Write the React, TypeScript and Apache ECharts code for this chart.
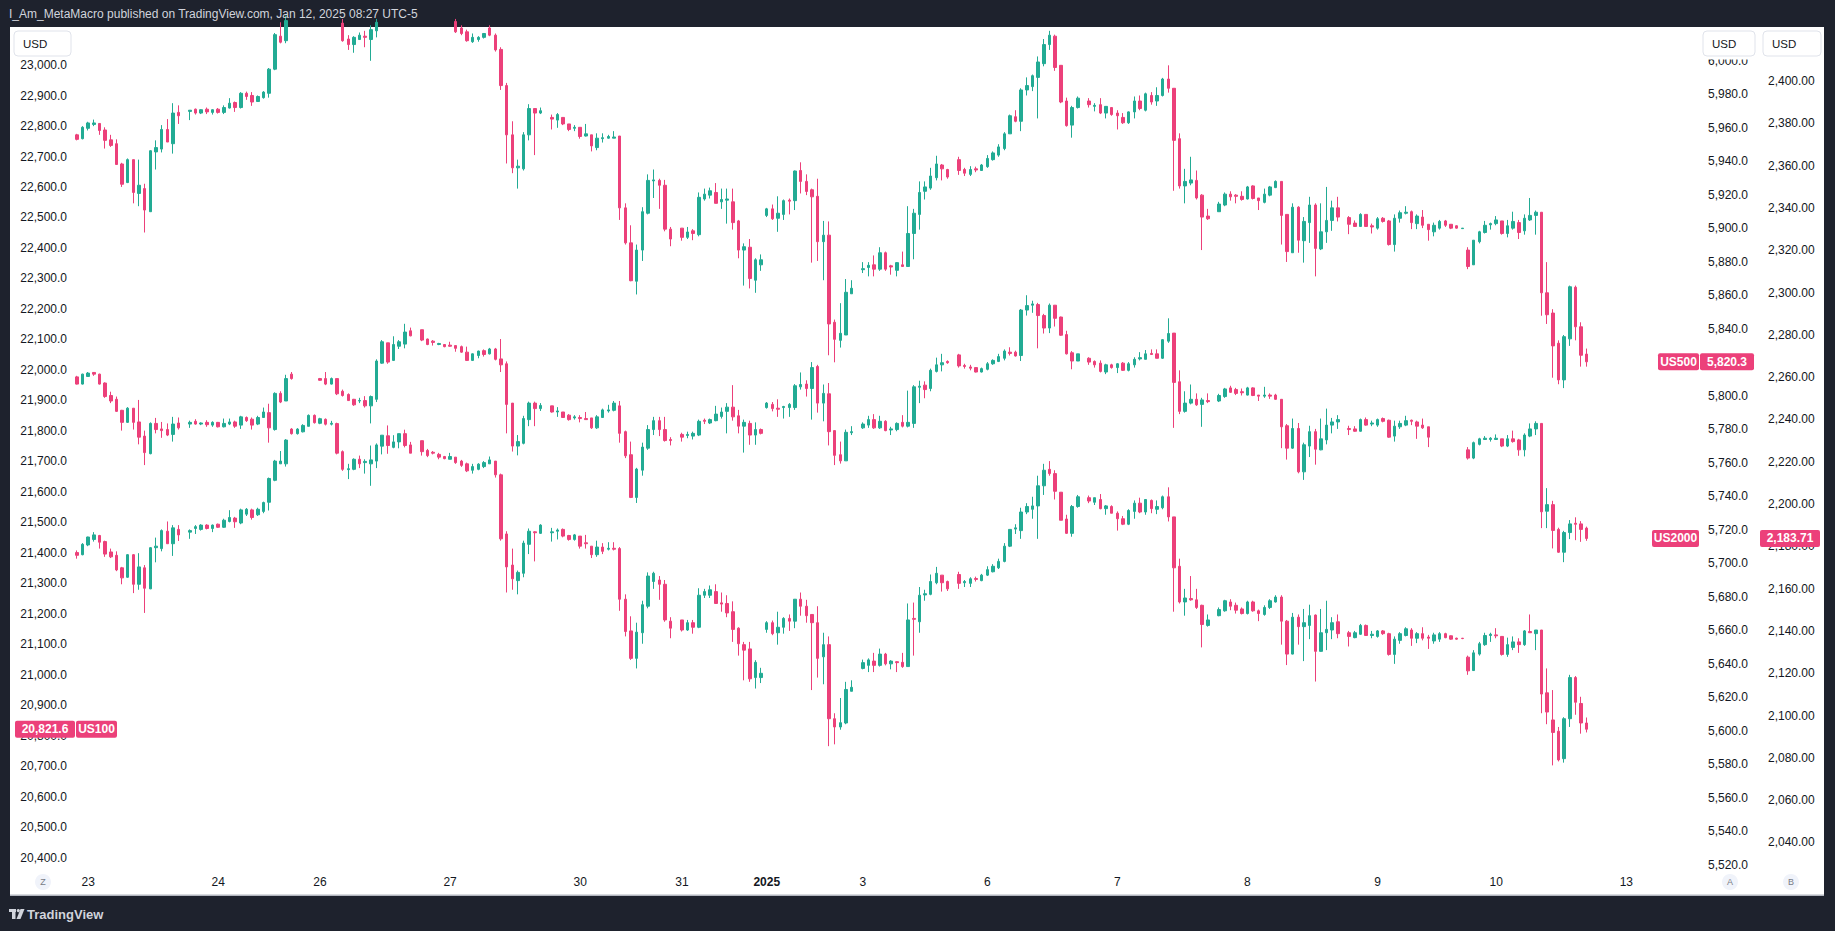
import React, { useEffect, useRef } from "react";
import * as echarts from "echarts";

// ---- time axis: hourly slots, day labels at slot index ----
const SLOT_COUNT = 287;
const DAY_TICKS: [number, string][] = [
  [2, "23"], [25, "24"], [43, "26"], [66, "27"], [89, "30"], [107, "31"], [122, "2025"],
  [139, "3"], [161, "6"], [184, "7"], [207, "8"], [230, "9"], [251, "10"], [274, "13"],
];

// candles: [open, close, low, high], null = no bar
type C = [number, number, number, number] | null;

const US500: C[] = [
  [5955.8,5953.1,5952.5,5956.4],[5953.5,5960.3,5953.1,5961.0],[5959.7,5962.9,5958.4,5963.6],[5962.0,5962.9,5961.0,5964.9],
  [5962.6,5958.4,5955.8,5962.6],[5958.7,5952.5,5947.6,5960.3],[5952.8,5949.5,5948.6,5955.8],[5950.5,5938.1,5938.1,5953.1],
  [5938.4,5926.3,5924.7,5939.1],[5927.3,5941.0,5927.0,5941.7],[5941.0,5921.4,5914.9,5941.0],[5920.8,5925.7,5913.2,5941.0],
  [5923.7,5910.9,5897.5,5926.6],[5909.9,5946.3,5909.9,5946.6],[5945.6,5948.2,5935.1,5952.5],[5947.3,5959.0,5945.3,5961.6],
  [5959.0,5951.5,5951.5,5965.2],[5950.5,5968.8,5944.6,5974.7],[5969.2,5967.2,5962.3,5973.4],null,
  [5969.8,5970.5,5964.6,5970.5],[5971.1,5968.8,5967.9,5971.5],[5968.8,5970.8,5968.2,5971.1],[5971.1,5969.5,5968.2,5972.1],
  [5969.2,5970.8,5967.9,5971.1],[5971.1,5969.2,5968.5,5971.8],[5969.2,5972.1,5968.2,5973.4],[5971.8,5974.7,5971.5,5977.7],
  [5975.1,5972.1,5969.5,5975.7],[5972.1,5980.6,5971.5,5981.3],[5980.6,5978.7,5976.7,5981.6],[5979.3,5975.4,5973.1,5981.3],
  [5975.7,5978.7,5975.4,5979.3],[5978.0,5981.3,5977.4,5981.9],[5980.6,5995.0,5978.0,5995.7],[5995.0,6015.6,5994.4,6016.6],
  [6014.7,6011.1,6010.4,6023.0],[6012.0,6024.0,6010.5,6027.0],[6024,6027,6022,6029],[6027,6030,6025,6031],
  [6030,6033,6028,6035],[6033,6037,6031,6039],[6037,6035,6033,6039],[6036,6034,6031,6038],
  [6034,6032,6029,6036],[6032,6030,6027,6034],[6030,6023,6022,6031],[6022.5,6012.0,6011.4,6025],
  [6013.0,6009.7,6006.5,6015.3],[6009.7,6014.0,6004.8,6014.7],[6012.7,6015.3,6012.4,6016.9],[6014.7,6014.0,6008.1,6017.9],
  [6012.7,6018.6,6000.0,6021.2],[6017.9,6023,6014.0,6025],[6023,6027,6021.5,6029],[6027,6025,6022,6030],
  [6025,6028,6023,6030],[6028,6031,6026,6033],[6031,6029,6026,6033],[6029,6027,6025,6031],null,
  [6028,6026,6024,6030],[6026,6025,6023,6028],[6025,6026,6023,6028],[6026,6025,6023,6028],
  [6025,6024,6022.5,6027],[6024,6025,6022.5,6027],[6023.5,6017.3,6016.6,6025],[6019.6,6016.3,6015.3,6021.2],
  [6017.3,6012.0,6011.4,6018.6],[6011.4,6014.0,6010.7,6016.3],[6012.7,6014.0,6011.4,6014.7],[6014.0,6016.3,6013.3,6016.6],
  [6019.6,6015.3,6014.7,6021.2],[6015.3,6006.5,6005.5,6016.3],[6006.8,5985.2,5982.6,6008.1],[5985.2,5955.8,5938.7,5986.8],
  [5955.8,5936.1,5932.9,5963.9],[5936.1,5937.1,5923.7,5941.0],[5935.5,5955.8,5934.5,5957.4],[5955.8,5971.5,5952.5,5974.1],
  [5971.5,5968.8,5943.7,5971.5],[5968.8,5970.2,5968.2,5972.1],null,[5966.2,5965.2,5959.0,5967.9],
  [5964.6,5967.9,5960.0,5968.8],[5966.2,5962.3,5961.6,5966.2],[5962.3,5959.0,5958.0,5962.3],[5959.7,5960.3,5958.0,5961.6],
  [5960.3,5954.8,5953.5,5960.3],[5955.1,5956.4,5954.8,5962.3],[5955.8,5949.2,5945.9,5955.8],[5948.2,5953.8,5946.6,5956.7],
  [5953.5,5954.1,5951.2,5956.7],[5953.8,5954.8,5953.5,5955.8],[5953.8,5954.5,5953.8,5958.0],[5955.1,5912.2,5905.0,5955.1],
  [5912.2,5891.3,5890.3,5914.9],[5891.3,5868.7,5868.4,5901.8],[5868.4,5887.0,5860.5,5890.3],[5887.0,5909.9,5880.5,5912.6],
  [5909.0,5928.6,5908.3,5932.2],[5928.3,5928.9,5918.1,5935.1],[5928.6,5925.7,5911.6,5929.6],[5925.7,5899.5,5898.2,5928.9],
  [5899.5,5893.6,5889.3,5900.8],null,[5900.1,5894.6,5892.6,5900.1],[5894.6,5897.8,5893.6,5900.8],
  [5898.5,5896.9,5892.9,5899.5],[5896.2,5918.5,5895.2,5921.4],[5917.5,5920.4,5916.5,5923.7],[5919.8,5922.4,5917.8,5924.3],
  [5921.4,5914.9,5914.9,5927.0],[5915.8,5917.2,5911.6,5923.7],[5916.8,5917.5,5902.8,5923.7],[5915.8,5903.4,5899.2,5923.7],
  [5904.4,5887.0,5882.1,5905.0],[5887.0,5889.0,5865.8,5891.0],[5888.7,5870.0,5864.1,5893.6],[5869.0,5881.2,5861.5,5882.1],
  [5878.2,5881.2,5874.6,5884.4],[5907.7,5911.6,5906.7,5912.2],[5911.6,5905.7,5905.0,5914.2],[5906.0,5909.0,5897.9,5919.1],
  [5908.3,5916.5,5905.0,5917.2],[5916.8,5916.2,5908.3,5917.8],[5916.5,5934.2,5910.9,5934.5],[5934.5,5928.0,5920.8,5939.4],
  [5928.0,5922.0,5919.8,5932.2],[5923.0,5918.8,5879.5,5923.7],[5919.1,5892.0,5880.5,5929.6],[5892.0,5895.9,5869.0,5904.4],
  [5895.9,5842.9,5824.2,5904.1],[5843.9,5833.7,5820.0,5845.5],[5833.1,5837.3,5828.8,5855.3],[5836.3,5861.8,5836.3,5869.7],
  [5860.9,5864.2,5860.9,5869.0],null,[5875.3,5875.9,5873.3,5879.8],[5876.6,5877.9,5871.3,5879.8],
  [5878.2,5875.6,5871.3,5883.8],[5875.6,5885.4,5874.6,5888.7],[5885.4,5875.6,5874.6,5886.1],[5877.6,5876.9,5872.3,5878.2],
  [5874.9,5879.5,5871.3,5879.8],[5878.2,5877.2,5877.2,5886.1],[5877.2,5896.9,5877.2,5913.2],[5896.9,5909.0,5881.5,5911.6],
  [5908.3,5921.4,5899.2,5928.0],[5922.1,5924.7,5917.2,5928.0],[5924.0,5931.2,5923.0,5936.1],[5930.2,5938.4,5928.6,5943.3],
  [5937.8,5935.5,5928.6,5938.4],[5935.1,5930.6,5929.6,5935.5],null,[5941.0,5934.5,5931.9,5942.7],
  [5935.1,5932.9,5931.2,5936.1],[5932.2,5935.1,5931.2,5937.1],[5935.5,5934.8,5933.5,5936.8],[5934.5,5937.8,5934.2,5938.4],
  [5936.8,5941.7,5936.1,5943.7],[5941.0,5945.0,5940.4,5945.9],[5943.7,5948.6,5942.7,5950.2],[5947.6,5956.4,5946.6,5957.4],
  [5956.4,5967.2,5956.4,5967.9],[5966.6,5963.9,5963.3,5970.5],[5963.9,5982.6,5958.0,5983.6],[5982.6,5985.2,5979.3,5990.1],
  [5984.6,5991.1,5981.9,5991.8],[5990.1,5999.3,5965.6,6002.6],[5998.3,6009.7,5996.7,6013.0],[6009.7,6015.3,6006.5,6017.9],
  [6014.7,5996.0,5994.0,6015.6],[5997.3,5975.4,5974.7,5997.3],[5976.0,5961.3,5960.7,5978.0],[5961.6,5972.1,5954.1,5973.1],
  [5972.1,5977.7,5971.5,5978.7],null,[5976.0,5973.8,5972.1,5977.7],[5972.8,5973.4,5969.8,5974.7],
  [5973.8,5968.8,5968.2,5977.7],[5968.8,5972.8,5965.6,5972.8],[5972.1,5967.9,5967.2,5972.1],[5968.8,5967.2,5959.0,5970.5],
  [5966.2,5963.0,5962.3,5968.8],[5963.0,5969.5,5962.3,5969.8],[5969.5,5976.0,5965.6,5978.7],[5976.0,5971.5,5970.5,5979.3],
  [5970.5,5980.3,5969.8,5981.0],[5979.3,5975.4,5973.8,5981.3],[5976.0,5979.3,5973.1,5984.2],[5979.3,5989.1,5978.7,5989.8],
  [5989.1,5983.6,5981.0,5997.3],[5983.6,5952.5,5922.4,5983.6],[5953.5,5925.3,5923.7,5956.7],[5925.3,5928.0,5914.9,5935.5],
  [5927.0,5928.9,5925.7,5942.7],[5928.6,5918.1,5917.2,5934.5],[5919.8,5906.7,5887.0,5920.4],[5907.3,5905.7,5905.0,5911.6],null,
  [5909.9,5914.5,5909.9,5915.8],[5913.9,5920.4,5913.2,5921.4],[5920.4,5918.8,5916.5,5922.1],[5919.8,5919.1,5914.9,5920.4],
  [5919.1,5917.2,5916.5,5922.1],[5917.5,5924.7,5917.2,5925.3],[5925.3,5917.8,5917.2,5925.7],[5918.1,5916.5,5910.9,5918.1],
  [5915.5,5920.4,5914.9,5923.7],[5919.8,5924.7,5919.1,5925.3],[5924.3,5928.0,5924.0,5928.6],[5928.0,5907.7,5890.3,5928.0],
  [5908.3,5886.1,5879.9,5908.3],[5885.4,5912.6,5885.4,5914.9],[5912.6,5892.9,5885.4,5913.2],[5892.6,5904.1,5879.5,5906.7],
  [5903.4,5913.9,5891.3,5918.8],[5913.9,5888.0,5871.3,5914.9],[5887.7,5897.9,5887.0,5914.9],[5897.9,5904.7,5891.3,5924.7],
  [5904.7,5912.2,5898.5,5916.5],[5912.2,5906.7,5904.1,5918.8],null,[5906.4,5902.4,5896.5,5907.3],
  [5903.1,5901.1,5900.8,5904.7],[5901.1,5908.3,5900.8,5909.0],[5908.3,5901.1,5900.8,5908.3],[5901.5,5900.8,5896.9,5902.8],
  [5900.1,5905.7,5899.2,5906.7],[5906.0,5904.1,5903.4,5906.7],[5904.4,5890.3,5889.7,5905.0],[5890.3,5906.0,5886.1,5908.3],
  [5906.0,5909.3,5903.4,5910.6],[5909.0,5909.6,5908.3,5913.2],[5909.9,5903.4,5899.5,5910.6],[5902.8,5907.3,5899.5,5908.3],
  [5906.7,5901.8,5900.1,5910.9],[5902.4,5899.2,5892.6,5902.4],[5897.9,5901.8,5895.2,5903.4],[5900.1,5904.1,5899.2,5905.0],
  [5904.4,5901.8,5900.8,5905.0],[5902.4,5900.1,5899.5,5902.4],[5901.5,5900.1,5899.8,5901.8],[5899.8,5900.1,5899.8,5900.1],
  [5887.0,5877.2,5875.6,5888.7],[5878.2,5892.9,5878.2,5892.9],[5892.0,5897.9,5891.0,5898.5],[5897.5,5901.8,5896.9,5904.4],
  [5902.1,5902.8,5899.2,5903.4],[5902.8,5905.0,5901.8,5907.3],[5904.4,5896.9,5896.2,5904.4],[5896.9,5901.5,5894.6,5905.0],
  [5900.1,5904.1,5899.2,5909.9],[5903.4,5897.5,5893.6,5905.0],[5898.5,5906.0,5896.2,5908.3],[5905.0,5907.7,5904.4,5918.1],
  [5907.7,5909.6,5896.2,5910.6],[5909.6,5861.5,5847.8,5909.6],[5861.5,5848.4,5842.9,5879.8],[5849.4,5829.8,5810.8,5851.7],
  [5831.4,5809.5,5806.9,5833.1],[5809.5,5835.3,5804.6,5836.3],[5834.0,5865.1,5829.8,5865.8],[5864.8,5841.2,5833.1,5865.8],
  [5841.2,5824.2,5817.4,5843.9],[5824.9,5820.3,5817.4,5828.2],
];

const US2000: C[] = [
  [2260.1,2256.7,2256.5,2260.6],[2256.7,2261.4,2256.5,2261.6],[2260.3,2261.9,2260.1,2262.4],[2262.2,2261.4,2260.6,2262.4],
  [2261.4,2256.7,2256.5,2261.6],[2257.2,2250.8,2250.2,2257.5],[2251.3,2248.7,2247.7,2253.1],[2249.5,2243.8,2243.5,2250.8],
  [2244.3,2238.6,2234.7,2244.5],[2238.6,2245.3,2238.3,2245.8],[2245.3,2238.6,2235.2,2245.3],[2238.8,2231.6,2228.2,2249.2],
  [2232.1,2224.3,2218.4,2234.7],[2223.8,2238.1,2223.5,2238.6],[2238.1,2235.2,2233.4,2240.7],[2235.5,2234.7,2231.3,2238.8],
  [2235.2,2232.6,2232.1,2238.1],[2232.9,2237.8,2229.5,2241.2],[2238.3,2236.0,2235.2,2240.9],null,
  [2237.8,2238.6,2236.0,2239.4],[2239.1,2237.8,2237.5,2240.1],[2237.8,2238.3,2237.3,2238.6],[2238.6,2237.5,2236.5,2239.6],
  [2237.3,2238.6,2236.5,2239.1],[2238.6,2236.5,2236.2,2238.8],[2236.5,2238.1,2236.2,2240.4],[2237.8,2238.8,2237.3,2240.4],
  [2238.8,2236.8,2236.0,2239.4],[2237.3,2241.2,2235.5,2241.7],[2240.9,2239.4,2238.8,2241.4],[2240.1,2237.3,2235.2,2240.9],
  [2237.8,2240.9,2237.3,2241.7],[2240.9,2243.5,2240.7,2245.6],[2243.2,2236.0,2229.0,2247.4],[2235.2,2252.3,2234.7,2252.8],
  [2252.3,2248.2,2247.7,2253.3],[2248.7,2259.3,2248.7,2261.1],[2261.4,2259.3,2258.8,2262.4],null,null,null,null,
  [2259.3,2258.5,2258.3,2259.6],[2259.3,2256.7,2256.2,2262.4],[2256.7,2259.3,2256.5,2259.8],[2259.3,2252.1,2251.5,2259.3],
  [2253.3,2251.3,2250.8,2254.1],[2251.8,2248.9,2248.7,2252.3],[2249.5,2246.9,2246.4,2249.7],[2248.7,2248.9,2247.7,2250.2],
  [2248.9,2246.4,2245.6,2251.0],[2246.4,2250.8,2238.1,2251.3],[2249.5,2267.6,2248.2,2268.4],[2266.6,2276.7,2266.3,2277.5],
  [2276.2,2267.1,2266.3,2276.2],[2267.9,2275.4,2267.6,2279.3],[2274.6,2276.7,2273.3,2277.5],[2275.6,2281.3,2273.6,2285.2],
  [2281.9,2279.5,2279.3,2283.4],null,[2282.4,2277.5,2277.0,2282.4],[2278.0,2275.4,2275.1,2278.2],
  [2277.0,2276.4,2274.9,2277.5],[2275.4,2275.9,2275.1,2276.2],[2275.4,2274.4,2274.1,2275.6],[2275.1,2274.6,2274.4,2276.7],
  [2274.9,2273.6,2272.0,2274.9],[2274.4,2271.8,2271.5,2274.9],[2271.8,2267.9,2267.6,2274.4],[2267.9,2271.0,2267.6,2271.2],
  [2270.2,2272.3,2268.9,2272.5],[2272.5,2270.7,2269.7,2273.1],[2271.0,2273.3,2270.7,2273.8],[2273.3,2268.4,2267.9,2273.8],
  [2268.6,2265.8,2262.4,2278.0],[2266.3,2247.1,2233.4,2267.4],[2247.7,2227.4,2224.8,2247.7],[2227.4,2229.5,2223.0,2232.6],
  [2228.7,2240.4,2228.2,2241.7],[2239.9,2247.7,2236.8,2248.4],[2247.7,2245.1,2236.8,2248.4],[2245.1,2246.6,2244.0,2247.7],null,
  [2246.4,2243.5,2243.2,2246.4],[2243.5,2244.0,2241.2,2245.8],[2243.5,2240.9,2240.7,2243.5],[2242.0,2239.9,2239.4,2242.5],
  [2240.7,2241.2,2239.9,2242.0],[2240.9,2240.4,2238.6,2242.0],[2240.4,2239.9,2239.9,2243.5],[2240.7,2236.0,2235.5,2240.7],
  [2236.0,2241.2,2235.5,2242.0],[2240.9,2244.5,2240.7,2245.1],[2244.0,2244.5,2243.2,2246.9],[2244.3,2247.7,2243.8,2248.7],
  [2246.4,2233.4,2229.0,2248.7],[2234.2,2222.8,2221.7,2234.7],[2223.3,2203.1,2202.8,2229.5],[2203.1,2216.5,2200.5,2217.1],
  [2216.0,2226.9,2213.4,2229.0],[2226.4,2235.2,2225.6,2237.3],[2235.2,2239.4,2232.6,2241.2],[2239.4,2235.2,2232.1,2241.2],
  [2235.2,2230.0,2229.5,2241.2],[2230.5,2230.0,2227.7,2231.6],null,[2232.9,2231.6,2229.5,2233.7],
  [2232.4,2232.9,2231.1,2234.2],[2232.1,2233.4,2230.5,2234.2],[2232.6,2239.1,2232.1,2239.9],[2239.6,2239.1,2237.8,2240.4],
  [2238.3,2239.9,2237.8,2240.4],[2239.4,2242.5,2239.1,2246.4],[2241.4,2243.5,2240.4,2245.6],[2243.8,2245.8,2233.4,2247.7],
  [2245.8,2241.2,2239.4,2256.2],[2241.7,2236.8,2233.4,2244.5],[2236.8,2238.6,2224.3,2239.9],[2238.1,2232.6,2228.0,2239.4],
  [2232.6,2235.2,2228.0,2238.6],[2235.2,2233.4,2232.9,2235.7],[2245.6,2247.7,2245.1,2248.2],[2247.1,2245.1,2243.8,2248.2],
  [2245.3,2244.8,2241.2,2249.5],[2245.6,2246.1,2240.4,2246.4],[2245.6,2247.1,2241.2,2247.7],[2245.6,2255.9,2244.5,2256.7],
  [2255.4,2256.5,2254.1,2262.2],[2256.7,2254.6,2250.8,2258.5],[2254.6,2264.5,2239.9,2267.1],[2265.0,2247.7,2243.2,2265.8],
  [2247.7,2252.3,2239.1,2256.5],[2252.1,2234.2,2227.7,2257.2],[2234.7,2223.0,2218.4,2234.7],[2223.3,2220.4,2219.1,2229.5],
  [2220.4,2233.9,2220.4,2235.2],[2233.7,2234.2,2232.6,2236.8],null,[2236.0,2237.8,2235.5,2238.6],
  [2237.3,2239.9,2236.0,2241.7],[2239.9,2236.0,2235.5,2242.5],[2236.0,2239.1,2235.5,2241.7],[2239.1,2234.7,2234.4,2239.6],
  [2235.0,2235.5,2232.6,2236.5],[2235.2,2238.1,2234.4,2238.6],[2238.6,2236.8,2236.2,2242.0],[2236.8,2238.6,2236.2,2253.6],
  [2238.1,2255.4,2236.0,2256.2],[2255.2,2255.7,2247.7,2258.3],[2256.2,2254.1,2250.0,2258.0],[2254.6,2263.2,2253.3,2264.0],
  [2262.7,2265.8,2262.2,2269.2],[2265.8,2266.8,2262.7,2271.0],[2267.4,2266.8,2266.3,2267.9],null,
  [2270.5,2265.3,2264.5,2271.0],[2265.5,2265.0,2264.0,2266.3],[2264.8,2264.2,2263.2,2265.8],[2264.5,2262.4,2262.2,2264.5],
  [2262.4,2264.0,2262.2,2264.5],[2263.7,2266.3,2263.2,2267.1],[2266.3,2267.9,2265.8,2268.4],[2267.4,2269.7,2267.1,2271.0],
  [2268.9,2272.3,2267.9,2273.1],[2271.8,2271.2,2270.2,2274.1],[2271.8,2270.0,2269.7,2272.5],[2270.2,2291.7,2267.6,2292.2],
  [2291.7,2293.8,2289.1,2298.7],[2294.0,2294.6,2290.4,2296.1],[2294.3,2289.1,2273.6,2295.1],[2289.1,2283.2,2280.6,2289.9],
  [2283.2,2294.0,2280.8,2294.8],[2294.0,2287.8,2283.9,2294.0],[2288.4,2279.8,2279.5,2288.6],[2280.1,2271.0,2270.7,2281.9],
  [2271.5,2267.6,2263.7,2272.3],[2267.6,2271.0,2267.6,2271.0],null,[2268.9,2267.1,2265.8,2269.4],
  [2267.4,2265.8,2264.5,2267.9],[2266.6,2262.7,2262.2,2267.9],[2262.4,2265.8,2261.4,2266.3],[2265.8,2264.5,2264.0,2266.3],
  [2264.5,2266.3,2261.9,2266.6],[2266.6,2263.2,2262.9,2267.1],[2263.2,2266.3,2262.7,2267.1],[2265.8,2268.4,2264.5,2269.4],
  [2268.6,2269.2,2267.9,2271.8],[2268.4,2271.0,2268.4,2272.8],[2271.2,2270.7,2270.5,2273.1],[2271.0,2268.9,2268.9,2273.1],
  [2268.9,2277.7,2268.6,2278.0],[2277.0,2280.6,2276.2,2287.8],[2280.8,2257.5,2236.0,2280.8],[2257.8,2243.8,2242.5,2263.2],
  [2243.8,2247.7,2243.2,2253.3],[2247.7,2249.5,2247.1,2256.5],[2249.5,2246.9,2246.4,2252.3],[2247.1,2249.2,2236.5,2250.2],
  [2248.9,2248.4,2247.7,2252.3],null,[2248.7,2251.3,2248.2,2252.1],[2250.8,2254.4,2250.2,2254.9],
  [2254.9,2252.8,2252.6,2255.9],[2254.1,2252.3,2251.5,2254.9],[2253.1,2252.6,2251.3,2254.6],[2251.5,2254.9,2251.3,2255.4],
  [2254.9,2251.3,2251.0,2255.2],[2251.5,2251.0,2248.7,2251.5],[2251.0,2251.5,2250.2,2255.4],[2251.5,2251.0,2249.7,2252.3],
  [2251.5,2249.5,2249.2,2252.1],[2249.5,2236.5,2226.4,2249.5],[2237.0,2226.4,2221.0,2237.8],[2226.4,2235.7,2226.1,2240.4],
  [2235.7,2215.2,2214.5,2238.3],[2215.2,2228.0,2211.4,2229.0],[2227.4,2234.2,2222.2,2237.0],[2234.2,2225.9,2218.6,2235.5],
  [2225.6,2230.8,2225.4,2240.4],[2230.3,2237.3,2228.2,2245.1],[2237.3,2238.8,2233.4,2240.7],[2238.8,2239.9,2235.5,2242.0],null,
  [2235.7,2235.2,2232.6,2237.0],[2235.5,2234.4,2234.2,2236.8],[2234.4,2239.9,2234.2,2240.4],[2239.9,2237.3,2237.0,2240.9],
  [2237.8,2238.3,2236.8,2239.4],[2237.3,2239.9,2236.5,2240.4],[2240.4,2239.1,2238.6,2240.9],[2239.6,2231.6,2231.3,2239.9],
  [2232.1,2236.8,2229.5,2239.4],[2236.5,2238.1,2235.5,2239.4],[2237.3,2239.4,2236.8,2241.7],[2239.6,2239.1,2237.3,2239.9],
  [2238.8,2236.8,2230.8,2239.4],[2237.3,2236.0,2235.5,2240.4],[2236.5,2231.6,2226.9,2236.5],null,null,null,null,null,null,
  [2225.6,2221.7,2221.0,2226.9],[2221.7,2229.0,2221.2,2229.5],[2228.2,2230.8,2227.7,2231.3],[2230.5,2231.1,2230.3,2232.1],
  [2230.5,2231.1,2229.5,2231.6],[2230.5,2231.1,2230.3,2232.9],[2230.8,2227.4,2226.9,2230.8],[2227.4,2230.8,2226.9,2232.6],
  [2230.8,2229.5,2229.0,2234.7],[2230.3,2225.6,2222.8,2230.8],[2225.6,2232.6,2222.5,2233.4],[2232.1,2235.5,2231.6,2238.1],
  [2235.5,2238.1,2232.6,2239.1],[2238.1,2196.3,2188.6,2238.1],[2196.6,2199.7,2188.6,2207.5],[2199.7,2187.5,2179.0,2201.5],
  [2188.0,2177.2,2176.9,2188.8],[2177.2,2186.5,2172.5,2187.3],[2186.5,2190.6,2183.4,2192.4],[2190.9,2190.4,2182.9,2193.7],
  [2190.6,2188.0,2182.1,2191.9],[2188.6,2183.71,2182.6,2189.3],
];

const US100: C[] = [
  [21401,21392,21381,21408],[21394,21428,21392,21432],[21426,21452,21422,21453],[21444,21459,21437,21468],
  [21457,21435,21414,21459],[21437,21396,21387,21440],[21403,21387,21383,21414],[21392,21344,21340,21405],
  [21351,21318,21297,21354],[21320,21394,21318,21396],[21394,21297,21268,21396],[21297,21354,21279,21399],
  [21351,21284,21203,21360],[21282,21417,21281,21419],[21417,21422,21369,21450],[21414,21473,21405,21477],
  [21471,21430,21430,21503],[21430,21482,21390,21491],[21477,21459,21439,21491],null,
  [21468,21473,21446,21477],[21480,21486,21462,21491],[21477,21491,21473,21494],[21491,21480,21477,21494],
  [21480,21491,21468,21493],[21494,21484,21482,21496],[21484,21507,21482,21512],[21503,21516,21500,21540],
  [21514,21502,21482,21518],[21498,21541,21494,21545],[21527,21543,21521,21547],[21541,21516,21509,21545],
  [21525,21543,21521,21548],[21536,21565,21530,21568],[21566,21644,21539,21647],[21638,21701,21635,21705],
  [21692,21701,21692,21734],[21692,21770,21683,21773],[21806,21791,21788,21809],[21791,21806,21788,21809],
  [21797,21818,21795,21822],[21815,21851,21815,21854],[21851,21827,21824,21854],[21825,21840,21822,21843],
  [21838,21822,21818,21841],[21822,21825,21818,21833],[21824,21727,21723,21827],[21732,21674,21669,21736],
  [21673,21676,21642,21692],[21674,21707,21671,21710],[21707,21692,21678,21719],[21696,21700,21660,21707],
  [21692,21705,21620,21752],[21701,21754,21678,21759],[21750,21786,21723,21786],[21784,21752,21725,21818],
  [21746,21764,21743,21786],[21764,21791,21743,21791],[21791,21752,21746,21804],[21754,21727,21727,21764],null,
  [21768,21732,21719,21768],[21736,21719,21714,21741],[21730,21727,21723,21734],[21723,21714,21707,21728],
  [21716,21709,21707,21718],[21707,21716,21707,21728],[21714,21696,21692,21714],[21701,21687,21682,21705],
  [21692,21669,21665,21696],[21671,21683,21660,21692],[21674,21691,21671,21694],[21683,21696,21678,21701],
  [21692,21705,21692,21716],[21701,21656,21647,21701],[21656,21446,21440,21660],[21462,21354,21270,21471],
  [21360,21315,21279,21414],[21309,21336,21264,21342],[21333,21432,21320,21440],[21428,21471,21396,21480],
  [21469,21466,21372,21471],[21464,21491,21462,21494],null,[21466,21469,21437,21482],
  [21471,21475,21444,21480],[21477,21455,21451,21480],[21457,21444,21440,21459],[21444,21459,21440,21462],
  [21455,21422,21414,21455],[21433,21430,21414,21459],[21422,21394,21383,21422],[21394,21419,21387,21440],
  [21419,21405,21396,21432],[21412,21415,21408,21435],[21415,21412,21408,21435],[21414,21248,21210,21419],
  [21248,21142,21126,21264],[21144,21054,21049,21192],[21054,21140,21021,21171],[21138,21230,21102,21243],
  [21225,21324,21218,21336],[21306,21333,21282,21338],[21311,21297,21246,21324],[21297,21180,21174,21311],
  [21176,21153,21120,21189],null,[21180,21147,21142,21180],[21147,21171,21144,21180],
  [21171,21156,21135,21180],[21156,21261,21153,21284],[21261,21273,21252,21282],[21261,21279,21252,21293],
  [21273,21234,21234,21297],[21236,21232,21207,21270],[21234,21203,21189,21261],[21207,21149,21108,21241],
  [21153,21102,21063,21156],[21099,21081,20982,21108],[21085,20987,20977,21108],[20991,21041,20955,21048],
  [20991,21005,20973,21023],[21149,21171,21138,21176],[21171,21135,21130,21178],[21138,21156,21099,21207],
  [21156,21185,21135,21189],[21185,21176,21144,21198],[21176,21248,21153,21248],[21248,21225,21194,21270],
  [21225,21194,21171,21246],[21198,21171,20950,21198],[21171,21054,20991,21225],[21059,21099,20969,21138],
  [21099,20856,20766,21126],[20856,20829,20772,20874],[20829,20843,20820,20924],[20842,20952,20838,20977],
  [20946,20959,20946,20982],null,[21021,21040,21018,21050],[21031,21049,21009,21054],
  [21045,21031,21009,21072],[21031,21068,21027,21086],[21068,21036,21031,21072],[21036,21045,21018,21048],
  [21043,21040,21009,21045],[21041,21027,21023,21072],[21027,21180,21027,21234],[21185,21182,21063,21237],
  [21174,21261,21138,21288],[21262,21266,21243,21279],[21264,21306,21261,21329],[21302,21333,21297,21354],
  [21327,21302,21273,21327],[21306,21282,21275,21309],null,[21329,21300,21282,21338],
  [21302,21306,21288,21311],[21300,21315,21288,21320],[21316,21313,21306,21322],[21309,21327,21307,21331],
  [21327,21345,21324,21356],[21338,21356,21336,21363],[21351,21372,21347,21381],[21372,21422,21369,21432],
  [21422,21477,21419,21477],[21478,21482,21462,21494],[21473,21534,21446,21548],[21534,21552,21527,21563],
  [21543,21554,21512,21584],[21554,21620,21446,21653],[21620,21671,21590,21692],[21674,21660,21653,21701],
  [21660,21602,21575,21671],[21599,21507,21507,21599],[21511,21464,21462,21525],[21464,21552,21453,21557],
  [21552,21584,21548,21590],null,[21581,21570,21563,21588],[21566,21581,21557,21581],
  [21575,21545,21543,21593],[21545,21554,21525,21557],[21552,21530,21530,21556],[21530,21512,21473,21536],
  [21512,21494,21491,21521],[21494,21539,21491,21543],[21536,21563,21512,21572],[21563,21534,21530,21581],
  [21534,21575,21525,21575],[21572,21545,21530,21575],[21543,21552,21527,21572],[21548,21584,21543,21588],
  [21584,21518,21503,21615],[21518,21351,21207,21518],[21356,21239,21234,21381],[21239,21252,21194,21282],
  [21250,21246,21243,21324],[21246,21221,21216,21282],[21228,21165,21090,21230],[21162,21180,21158,21198],null,
  [21194,21214,21192,21221],[21210,21243,21207,21246],[21239,21225,21212,21248],[21228,21212,21201,21237],
  [21216,21201,21198,21221],[21201,21239,21198,21243],[21239,21210,21207,21243],[21210,21201,21176,21214],
  [21198,21221,21194,21228],[21221,21243,21216,21248],[21239,21255,21237,21261],[21255,21176,21099,21261],
  [21176,21068,21032,21180],[21068,21189,21067,21203],[21189,21158,21099,21198],[21158,21171,21045,21216],
  [21162,21194,21117,21230],[21196,21077,20978,21198],[21077,21138,21076,21216],[21138,21149,21081,21243],
  [21147,21171,21117,21189],[21174,21135,21120,21198],null,[21138,21126,21093,21144],
  [21122,21138,21120,21144],[21133,21162,21131,21167],[21162,21129,21128,21165],[21129,21133,21120,21144],
  [21126,21144,21122,21147],[21144,21135,21131,21147],[21135,21067,21063,21138],[21067,21117,21036,21126],
  [21113,21135,21102,21140],[21129,21151,21126,21156],[21147,21120,21095,21153],[21120,21135,21104,21140],
  [21135,21120,21113,21156],[21124,21120,21085,21131],[21111,21131,21102,21138],[21117,21135,21108,21140],
  [21135,21122,21120,21138],[21128,21117,21115,21129],[21120,21117,21115,21122],[21120,21119,21117,21121],
  [21058,21013,21000,21063],[21014,21072,21013,21081],[21068,21102,21063,21108],[21099,21129,21095,21138],
  [21129,21133,21108,21138],[21131,21128,21120,21153],[21126,21067,21063,21126],[21067,21099,21059,21122],
  [21090,21108,21081,21126],[21108,21099,21072,21120],[21099,21144,21095,21147],[21142,21138,21138,21198],
  [21135,21147,21081,21147],[21147,20937,20874,21147],[20941,20878,20838,21021],[20852,20811,20703,20950],
  [20815,20721,20716,20829],[20725,20856,20712,20861],[20856,20991,20829,21000],[20991,20910,20869,20996],
  [20906,20842,20807,20928],[20842,20821.6,20811,20860],
];

const LAST_US500 = 5820.3;
const LAST_US2000 = 2183.71;
const LAST_US100 = 20821.6;

const UP = "#22ab94";
const DOWN = "#ec407a";
const PINK = "#ec407a";
const TEXT = "#131722";
const FONT = "'Liberation Sans', Arial, sans-serif";

function fmt(v: number, d: number): string {
  return v.toLocaleString("en-US", { minimumFractionDigits: d, maximumFractionDigits: d });
}

export default function App() {
  const ref = useRef<HTMLDivElement>(null);

  useEffect(() => {
    const el = ref.current;
    if (!el) return;
    const chart = echarts.init(el, null, { renderer: "svg" });

    const cats: string[] = Array.from({ length: SLOT_COUNT }, () => "");
    DAY_TICKS.forEach(([i, l]) => { cats[i] = l; });
    const toData = (arr: C[]) => arr.map((d) => (d ? d : ["-", "-", "-", "-"]));

    const gridBase: any = { left: 74, right: 138, containLabel: false, outerBoundsMode: "none" };
    const grids = [
      { ...gridBase, top: 27.3, height: 871 },
      { ...gridBase, top: 38.7, height: 846 },
      { ...gridBase, top: 34.55, height: 853.7 },
      { ...gridBase, top: 800, height: 70 },
    ];

    const xAxes = [0, 1, 2, 3].map((i) => ({
      type: "category",
      gridIndex: i,
      data: cats,
      show: i === 3,
      boundaryGap: true,
      axisLine: { show: false },
      axisTick: { show: false },
      splitLine: { show: false },
      axisLabel: {
        interval: 0,
        margin: 6,
        color: TEXT,
        fontSize: 12,
        fontFamily: FONT,
        formatter: (v: string) => (v === "2025" ? "{b|2025}" : v),
        rich: { b: { fontWeight: "bold", fontSize: 12, color: TEXT, fontFamily: FONT } },
      },
    }));

    const yBase = (grid: number, pos: string, min: number, max: number, interval: number, dec: number, margin: number, offset = 0) => ({
      type: "value",
      gridIndex: grid,
      position: pos,
      offset,
      min,
      max,
      interval,
      splitLine: { show: false },
      axisLine: { show: false },
      axisTick: { show: false },
      axisLabel: {
        margin,
        color: TEXT,
        fontSize: 12,
        fontFamily: FONT,
        showMinLabel: false,
        showMaxLabel: false,
        formatter: (v: number) => fmt(v, dec),
      },
    });

    const yAxes = [
      yBase(0, "right", 5500, 6020, 20, 1, 11),
      yBase(1, "right", 2020, 2420, 20, 2, 11, 60),
      yBase(2, "left", 20300, 23100, 100, 1, 7),
      { type: "value", gridIndex: 3, show: false },
    ];

    const candle = (name: string, idx: number, arr: C[]) => ({
      name,
      type: "candlestick",
      xAxisIndex: idx,
      yAxisIndex: idx,
      data: toData(arr),
      barWidth: 3,
      clip: true,
      silent: true,
      itemStyle: {
        color: UP,
        color0: DOWN,
        borderColor: UP,
        borderColor0: DOWN,
        borderColorDoji: UP,
        borderWidth: 1,
      },
    });

    chart.setOption({
      animation: false,
      backgroundColor: "#1e222d",
      grid: grids,
      xAxis: xAxes,
      yAxis: yAxes,
      series: [candle("US500", 0, US500), candle("US2000", 1, US2000), candle("US100", 2, US100)],
    });

    const y500 = chart.convertToPixel({ yAxisIndex: 0 } as any, LAST_US500) as unknown as number;
    const y2000 = chart.convertToPixel({ yAxisIndex: 1 } as any, LAST_US2000) as unknown as number;
    const y100 = chart.convertToPixel({ yAxisIndex: 2 } as any, LAST_US100) as unknown as number;

    const g: any[] = [];
    // white pane
    g.push({ type: "rect", z: -100, silent: true, shape: { x: 10, y: 27, width: 1814, height: 868 }, style: { fill: "#ffffff" } });
    g.push({ type: "rect", z: 50, silent: true, shape: { x: 10, y: 894.5, width: 1814, height: 1.5 }, style: { fill: "#b2b5be" } });
    // the price scale hides labels that run under its header box
    g.push({ type: "rect", z: 55, silent: true, shape: { x: 1700, y: 27, width: 124, height: 32.5 }, style: { fill: "#ffffff" } });
    // header
    g.push({
      type: "text", z: 50, x: 9, y: 14,
      style: { text: "I_Am_MetaMacro published on TradingView.com, Jan 12, 2025 08:27 UTC-5", fill: "#d1d4dc", fontSize: 12, fontFamily: FONT, verticalAlign: "middle" },
    });
    // footer logo
    g.push({ type: "rect", z: 50, shape: { x: 9, y: 909, width: 7, height: 3 }, style: { fill: "#d1d4dc" } });
    g.push({ type: "rect", z: 50, shape: { x: 12, y: 909, width: 3.5, height: 10 }, style: { fill: "#d1d4dc" } });
    g.push({ type: "circle", z: 50, shape: { cx: 18.3, cy: 910.6, r: 1.6 }, style: { fill: "#d1d4dc" } });
    g.push({ type: "polygon", z: 50, shape: { points: [[20.5, 909], [24.5, 909], [20.5, 919], [16.5, 919]] }, style: { fill: "#d1d4dc" } });
    g.push({ type: "text", z: 50, x: 27, y: 914, style: { text: "TradingView", fill: "#d1d4dc", fontSize: 13, fontWeight: "bold", fontFamily: FONT, verticalAlign: "middle" } });

    // USD boxes
    const usd = (x: number, w: number) => {
      g.push({ type: "rect", z: 60, shape: { x, y: 31, width: w, height: 25, r: 4 }, style: { fill: "#ffffff", stroke: "#e0e3eb", lineWidth: 1 } });
      g.push({ type: "text", z: 61, x: x + 9, y: 43.5, style: { text: "USD", fill: TEXT, fontSize: 11.5, fontFamily: FONT, verticalAlign: "middle" } });
    };
    usd(14, 57);
    usd(1703, 52);
    usd(1763, 58);

    // last price labels
    const tag = (x: number, w: number, y: number, text: string) => {
      g.push({ type: "rect", z: 70, shape: { x, y: y - 8.5, width: w, height: 17, r: 2 }, style: { fill: PINK } });
      g.push({ type: "text", z: 71, x: x + w / 2, y, style: { text, fill: "#ffffff", fontSize: 12, fontWeight: "bold", fontFamily: FONT, align: "center", verticalAlign: "middle" } });
    };
    tag(1658, 41, y500, "US500");
    tag(1700, 54, y500, fmt(LAST_US500, 1));
    tag(1652, 47, y2000, "US2000");
    tag(1760, 60, y2000, fmt(LAST_US2000, 2));
    tag(15, 60, y100, fmt(LAST_US100, 1));
    tag(76, 41, y100, "US100");

    // scale buttons
    const btn = (cx: number, t: string) => {
      g.push({ type: "circle", z: 60, shape: { cx, cy: 882, r: 8 }, style: { fill: "#f0f3fa" } });
      g.push({ type: "text", z: 61, x: cx, y: 882, style: { text: t, fill: "#787b86", fontSize: 9, fontFamily: FONT, align: "center", verticalAlign: "middle" } });
    };
    btn(43, "Z");
    btn(1730, "A");
    btn(1791, "B");

    chart.setOption({ graphic: { elements: g } });

    return () => chart.dispose();
  }, []);

  return <div ref={ref} style={{ position: "fixed", left: 0, top: 0, width: 1835, height: 931 }} />;
}
